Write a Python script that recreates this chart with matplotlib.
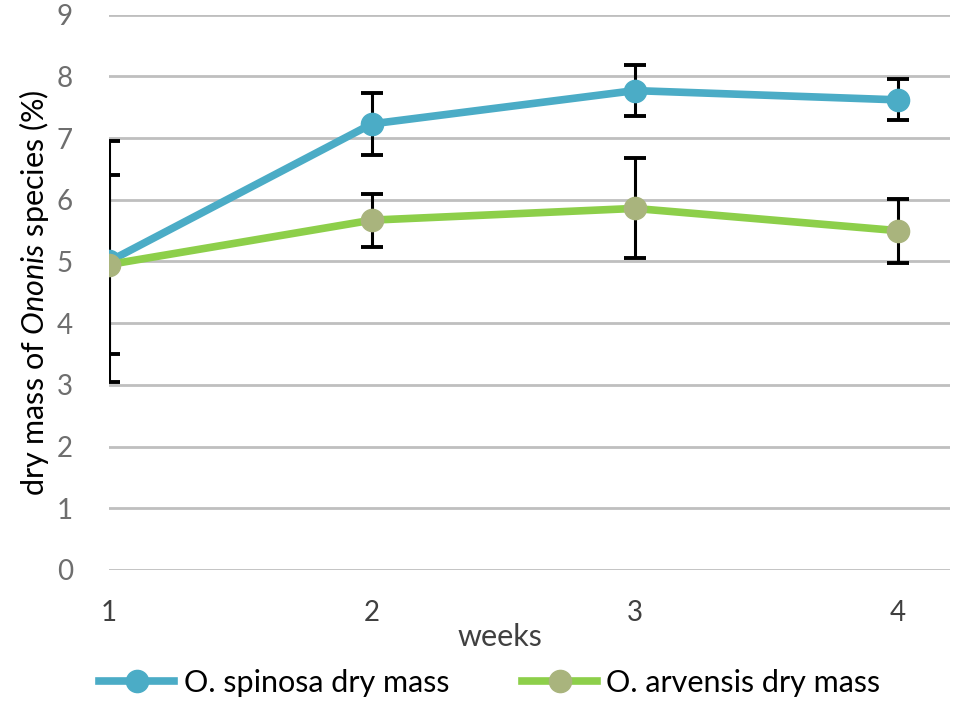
import matplotlib
matplotlib.use("Agg")
from matplotlib import pyplot as plt
from matplotlib.lines import Line2D
import numpy as np

weeks = [1, 2, 3, 4]
spinosa = [5.0, 7.23, 7.77, 7.62]
spinosa_err = [1.95, 0.50, 0.41, 0.33]
arvensis = [4.95, 5.67, 5.86, 5.50]
arvensis_err = [1.45, 0.43, 0.81, 0.52]
names = ['O. spinosa dry mass', 'O. arvensis dry mass']

plt.rcParams['font.family'] = ['Lato', 'DejaVu Sans']
plt.rcParams['mathtext.fontset'] = 'custom'
plt.rcParams['mathtext.it'] = 'Lato:italic'
plt.rcParams['mathtext.rm'] = 'Lato'

blue = '#4BACC6'
green = '#8DCF4A'
olive = '#A9B47D'

fig = plt.figure(figsize=(9.55, 7.01), dpi=100)
ax = fig.add_axes([0.114, 0.187, 0.881, 0.792])

ax.errorbar(weeks, spinosa, yerr=spinosa_err, color=blue, lw=5.5,
            marker='o', ms=16, mfc=blue, mec=blue,
            ecolor='black', elinewidth=2.2, capsize=8, capthick=2.8, zorder=3)
ax.errorbar(weeks, arvensis, yerr=arvensis_err, color=green, lw=5.5,
            marker='o', ms=16, mfc=olive, mec=olive,
            ecolor='black', elinewidth=2.2, capsize=8, capthick=2.8, zorder=3)

ax.set_xlim(1, 4.2)
ax.set_ylim(0, 9)
ax.set_yticks(range(0, 10))
ax.set_xticks(weeks)
ax.yaxis.grid(True, color='#BFBFBF', lw=2)
ax.set_axisbelow(True)
for s in ax.spines.values():
    s.set_visible(False)
ax.tick_params(length=0, labelsize=20)
ax.tick_params(axis='x', pad=22, labelcolor='#404040')
ax.tick_params(axis='y', pad=26, labelcolor='#6E6E6E')

ax.set_xlabel('weeks', fontsize=22, color='#404040')
ax.xaxis.set_label_coords(0.465, -0.12, transform=ax.transAxes)
ax.xaxis.label.set_va('center')
ax.set_ylabel(r'dry mass of $\it{Ononis}$ species (%)', fontsize=22, color='black', labelpad=4)

handles = [Line2D([], [], color=blue, lw=5.5, marker='o', ms=16, mfc=blue, mec=blue),
           Line2D([], [], color=green, lw=5.5, marker='o', ms=16, mfc=olive, mec=olive)]
leg = ax.legend(handles, names, loc='center', bbox_to_anchor=(0.453, -0.204), ncol=2,
                frameon=False, fontsize=22, handlelength=2.45, columnspacing=2.4,
                handletextpad=0.3)

fig.savefig('out.png', dpi=100)
